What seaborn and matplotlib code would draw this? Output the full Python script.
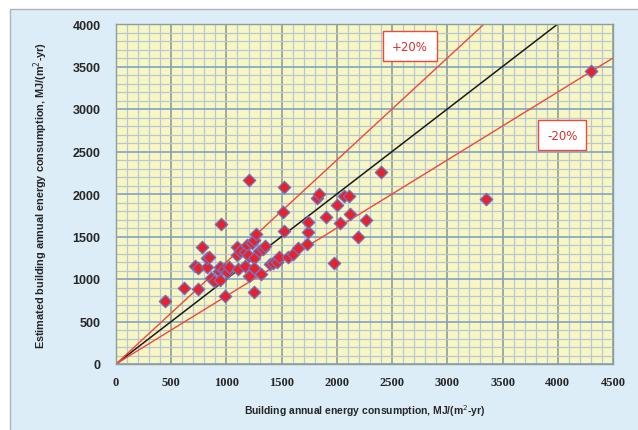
import matplotlib
matplotlib.use("Agg")
import matplotlib.pyplot as plt
import seaborn as sns
import pandas as pd
from matplotlib.patches import Rectangle
from matplotlib.ticker import MultipleLocator

# Measured vs estimated building annual energy consumption, MJ/(m2-yr)
measured = [444, 619, 740, 715, 740, 782, 821, 827, 842, 857, 887, 933, 942, 942,
            951, 978, 987, 1008, 1023, 1093, 1093, 1108, 1123, 1168, 1168, 1189,
            1198, 1207, 1207, 1229, 1250, 1250, 1250, 1250, 1268, 1298, 1310, 1334,
            1349, 1394, 1425, 1455, 1479, 1515, 1521, 1521, 1560, 1600, 1651, 1732,
            1741, 1741, 1823, 1841, 1901, 1977, 1998, 2028, 2064, 2113, 2119, 2188,
            2261, 2397, 3347, 4305]
estimated = [741, 898, 882, 1149, 1125, 1380, 1145, 1243, 1262, 1012, 980, 1098, 1137, 988,
             1647, 1118, 796, 1086, 1137, 1373, 1282, 1118, 1333, 1314, 1157, 1400,
             1282, 2165, 1039, 1424, 1463, 1247, 1125, 851, 1529, 1333, 1055, 1353,
             1384, 1176, 1188, 1204, 1255, 1784, 2078, 1569, 1262, 1294, 1361, 1412,
             1549, 1675, 1949, 2000, 1733, 1188, 1871, 1655, 1980, 1980, 1765, 1490,
             1694, 2255, 1945, 3445]

ratios = [1.0, 1.2, 0.8]
ratio_colors = ["#1a1a1a", "#f0483a", "#f0483a"]
band_labels = ["+20%", "-20%"]
band_label_pos = [(2663, 3741), (4040, 2694)]

x_ticks = [0, 500, 1000, 1500, 2000, 2500, 3000, 3500, 4000, 4500]
y_ticks = [0, 500, 1000, 1500, 2000, 2500, 3000, 3500, 4000]

df = pd.DataFrame({"measured": measured, "estimated": estimated})

sns.set_style("white")
fig = plt.figure(figsize=(6.38, 4.31), dpi=100, facecolor="white")
fig.patches.append(Rectangle((10 / 638, -0.2), 1.2, 1 - 10 / 431 + 0.2,
                             transform=fig.transFigure, facecolor="#dcedf8",
                             edgecolor="#a9b4bc", linewidth=1.0, zorder=-10))
ax = fig.add_axes([116 / 638, 66 / 431, 497 / 638, 340 / 431])
ax.set_facecolor("#f8f6c2")

ax.set_xlim(0, 4500)
ax.set_ylim(0, 4000)
ax.xaxis.set_major_locator(MultipleLocator(500))
ax.yaxis.set_major_locator(MultipleLocator(500))
ax.xaxis.set_minor_locator(MultipleLocator(100))
ax.yaxis.set_minor_locator(MultipleLocator(100))
ax.grid(which="minor", color="#b6c8d6", linewidth=0.9, zorder=0)
ax.grid(which="major", axis="x", color="#8e9e9c", linewidth=1.2, zorder=0)
ax.grid(which="major", axis="y", color="#7fa2c8", linewidth=1.2, zorder=0)
ax.set_axisbelow(True)

for r, c in zip(ratios, ratio_colors):
    ax.axline((0, 0), slope=r, color=c, linewidth=1.1 if r == 1.0 else 1.0, zorder=2)

sns.scatterplot(data=df, x="measured", y="estimated", marker="D", s=40,
                color="#e8222c", edgecolor="#6d74c0", linewidth=0.9, ax=ax, zorder=3)

for lab, (lx, ly) in zip(band_labels, band_label_pos):
    ax.text(lx, ly, lab, color="#d8302a", fontsize=8.5, family="DejaVu Sans",
            ha="center", va="center", zorder=4,
            bbox=dict(boxstyle="square,pad=0.75", facecolor="white",
                      edgecolor="#f0483a", linewidth=1.0))

ax.set_xticks(x_ticks)
ax.set_yticks(y_ticks)
ax.set_xticklabels([str(t) for t in x_ticks], fontsize=9, fontweight="bold",
                   family="Liberation Serif")
ax.set_yticklabels([str(t) for t in y_ticks], fontsize=9, fontweight="bold",
                   family="Liberation Sans")
ax.tick_params(which="major", length=4, color="#8e9e9c", pad=5)
ax.tick_params(which="minor", length=0)
ax.tick_params(axis="y", pad=7)
for s in ax.spines.values():
    s.set_color("#8e9e9c")
    s.set_linewidth(1.0)

ax.set_xlabel("Building annual energy consumption, MJ/(m$^2$-yr)", fontsize=7.5,
              fontweight="bold", family="Liberation Sans", labelpad=10)
ax.set_ylabel("Estimated building annual energy consumption, MJ/(m$^2$-yr)", fontsize=7.8,
              fontweight="bold", family="Liberation Sans", labelpad=16)

fig.savefig("out.png", dpi=100, facecolor=fig.get_facecolor())
